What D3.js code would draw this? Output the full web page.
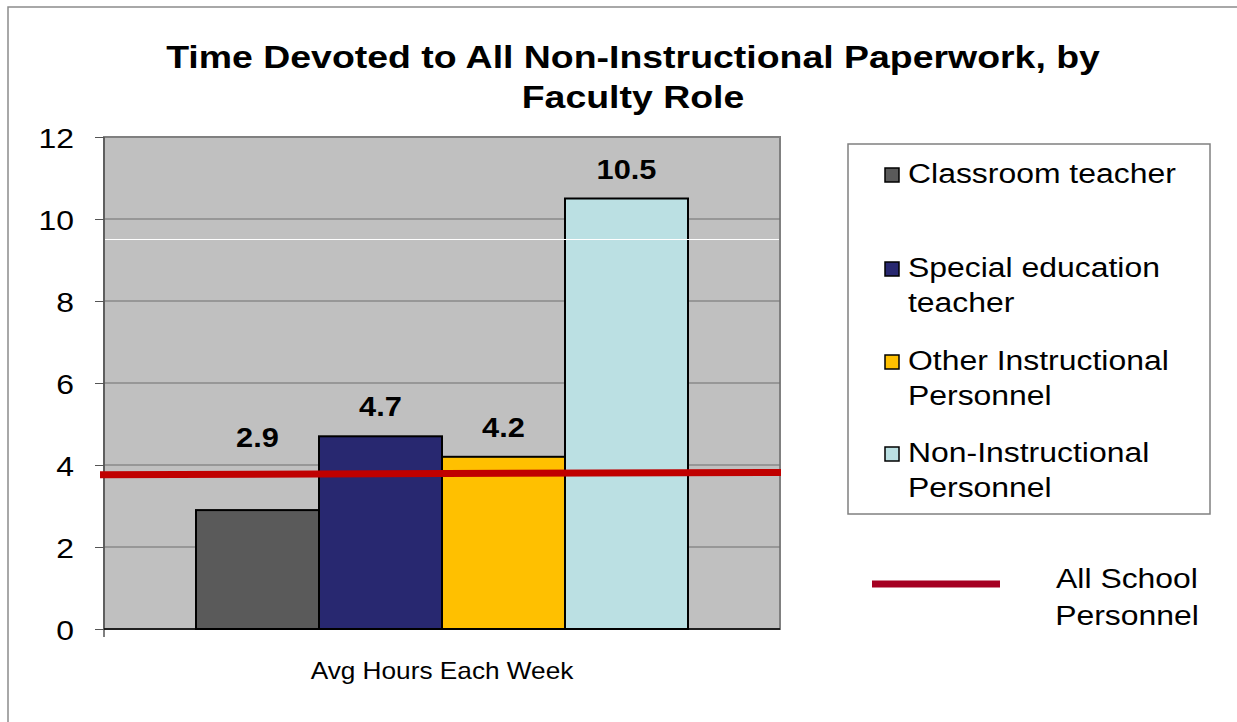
<!DOCTYPE html>
<html lang="en">
<head>
<meta charset="utf-8" />
<title>Time Devoted to All Non-Instructional Paperwork</title>
<script src="https://cdn.jsdelivr.net/npm/d3@7"></script>
<style>
  body { margin: 0; background: white; }
  text { font-family: "Liberation Sans", Arial, sans-serif; fill: black; }
</style>
</head>
<body>
<div id="chart"></div>
<script>
// data
var category = "Avg Hours Each Week";
var roles = ["Classroom teacher", "Special education teacher", "Other Instructional Personnel", "Non-Instructional Personnel"];
var hours = [2.9, 4.7, 4.2, 10.5];
var roleColors = ["#5a5a5a", "#282870", "#ffc000", "#bbe0e3"];
var legendLines = [["Classroom teacher"], ["Special education", "teacher"], ["Other Instructional", "Personnel"], ["Non-Instructional", "Personnel"]];
var allSchool = [3.76, 3.82];          // red line, left end / right end
var allSchoolLabel = ["All School", "Personnel"];
var yTicks = [0, 2, 4, 6, 8, 10, 12];
var whiteRule = 9.5;
var titleLines = ["Time Devoted to All Non-Instructional Paperwork, by", "Faculty Role"];

var W = 1237, H = 722;
var sx = 1.14; // the picture is stretched sideways, text too

var svg = d3.select("#chart").append("svg")
    .attr("width", W)
    .attr("height", H);

// outer frame
svg.append("rect")
    .attr("x", 8).attr("y", 7)
    .attr("width", 1400).attr("height", 900)
    .attr("fill", "white")
    .attr("stroke", "#8c8c8c")
    .attr("stroke-width", 1.5);

function label(g, x, y, txt, size, weight, anchor, stretch) {
  return g.append("text")
    .attr("transform", "translate(" + x + "," + y + ") scale(" + (stretch || sx) + ",1)")
    .attr("text-anchor", anchor || "middle")
    .style("font-size", size + "px")
    .style("font-weight", weight || "normal")
    .text(txt);
}

// title
titleLines.forEach(function(t, i) {
  label(svg, 633, 68 + i * 40, t, 32, "bold", "middle", 1.17);
});

// plot area
var pL = 104, pR = 780, pT = 137, pB = 629;

var y = d3.scaleLinear().domain([0, 12]).range([pB, pT]);
var x0 = d3.scaleBand().domain([category]).range([pL, pR]).paddingOuter(0.187).paddingInner(0);
var x1 = d3.scaleBand().domain(roles).range([0, x0.bandwidth()]).padding(0);

svg.append("rect")
    .attr("x", pL).attr("y", pT)
    .attr("width", pR - pL).attr("height", pB - pT)
    .attr("fill", "#c0c0c0")
    .attr("stroke", "#808080")
    .attr("stroke-width", 2);

// gridlines
svg.append("g")
  .selectAll("line")
  .data(yTicks.filter(function(d) { return d > 0 && d < 12; }))
  .enter().append("line")
    .attr("x1", pL).attr("x2", pR)
    .attr("y1", function(d) { return y(d); })
    .attr("y2", function(d) { return y(d); })
    .attr("stroke", "#6e6e6e")
    .attr("stroke-width", 1.2);

// y axis
var yAxis = svg.append("g")
    .attr("transform", "translate(" + pL + ",0)")
    .call(d3.axisLeft(y).tickValues(yTicks).tickSize(9).tickFormat(d3.format("d")));
yAxis.select(".domain").remove();
yAxis.selectAll(".tick line").attr("stroke", "#555");
yAxis.selectAll(".tick text")
    .attr("x", null).attr("dy", null)
    .attr("text-anchor", "end")
    .attr("transform", "translate(-30,10) scale(" + sx + ",1)")
    .style("font-size", "28px")
    .style("font-family", "'Liberation Sans', Arial, sans-serif")
    .attr("fill", "black");
svg.append("line")
    .attr("x1", pL).attr("x2", pL)
    .attr("y1", pT).attr("y2", pB + 8)
    .attr("stroke", "#555").attr("stroke-width", 1.5);

// bars
var bars = svg.append("g").attr("transform", "translate(" + x0(category) + ",0)");
bars.selectAll("rect")
  .data(hours)
  .enter().append("rect")
    .attr("x", function(d, i) { return x1(roles[i]); })
    .attr("y", function(d) { return y(d); })
    .attr("width", x1.bandwidth())
    .attr("height", function(d) { return y(0) - y(d); })
    .attr("fill", function(d, i) { return roleColors[i]; })
    .attr("stroke", "black")
    .attr("stroke-width", 2);

// x axis line
svg.append("line")
    .attr("x1", pL).attr("x2", pR)
    .attr("y1", pB).attr("y2", pB)
    .attr("stroke", "black").attr("stroke-width", 1.5);

// stray white rule
svg.append("line")
    .attr("x1", pL + 1).attr("x2", pR - 1)
    .attr("y1", y(whiteRule)).attr("y2", y(whiteRule))
    .attr("stroke", "white").attr("stroke-width", 1.2);

// all school personnel line
var xl = d3.scalePoint().domain([0, 1]).range([pL - 4, pR + 1]);
svg.append("path")
    .datum(allSchool)
    .attr("fill", "none")
    .attr("stroke", "#c00000")
    .attr("stroke-width", 7)
    .attr("d", d3.line().x(function(d, i) { return xl(i); }).y(function(d) { return y(d); }));

// value labels, lifted over the red line when the bar is under it
hours.forEach(function(v, i) {
  var cx = x0(category) + x1(roles[i]) + x1.bandwidth() / 2;
  var base = v < allSchool[0] ? y(allSchool[0]) - 28 : y(v) - 20;
  label(svg, cx, base, d3.format(".1f")(v), 27, "bold");
});

// x category label
label(svg, (pL + pR) / 2, 679, category, 23);

// legend
var lg = svg.append("g");
lg.append("rect")
    .attr("x", 848).attr("y", 144)
    .attr("width", 362).attr("height", 370)
    .attr("fill", "white")
    .attr("stroke", "#808080")
    .attr("stroke-width", 1.5);

var rowY = [183, 277, 370, 462];
legendLines.forEach(function(lines, i) {
  lg.append("rect")
      .attr("x", 885).attr("y", rowY[i] - 15)
      .attr("width", 14).attr("height", 14)
      .attr("fill", roleColors[i])
      .attr("stroke", "black")
      .attr("stroke-width", 1.5);
  lines.forEach(function(t, j) {
    label(lg, 908, rowY[i] + j * 35, t, 28, "normal", "start");
  });
});

lg.append("line")
    .attr("x1", 872).attr("x2", 1000)
    .attr("y1", 584).attr("y2", 584)
    .attr("stroke", "#a50021")
    .attr("stroke-width", 7);
allSchoolLabel.forEach(function(t, j) {
  label(lg, 1127, 588 + j * 37, t, 28);
});
</script>
</body>
</html>
